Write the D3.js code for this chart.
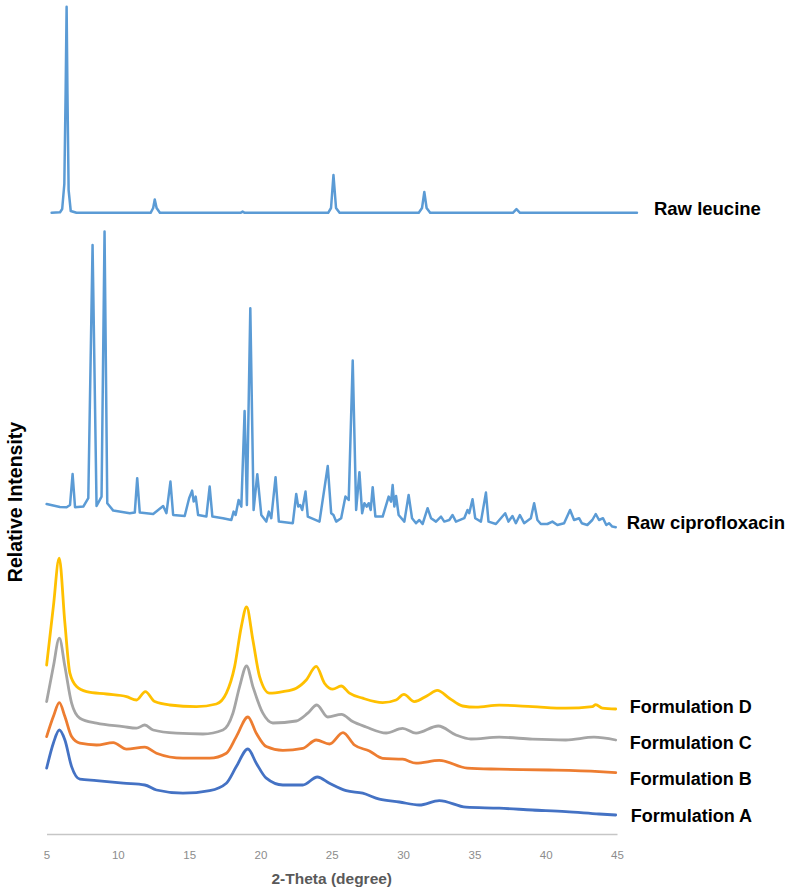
<!DOCTYPE html>
<html>
<head>
<meta charset="utf-8">
<script src="https://cdn.jsdelivr.net/npm/d3@7"></script>
<style>
  html, body { margin: 0; padding: 0; background: #fff; }
  svg { display: block; }
</style>
</head>
<body>
<div id="chart"></div>
<script>
// ---- DATA (2-Theta in degrees, relative intensity in stacked arbitrary units) ----
const xTicks = [5, 10, 15, 20, 25, 30, 35, 40, 45];
const seriesNames = ["Raw leucine", "Raw ciprofloxacin", "Formulation D", "Formulation C", "Formulation B", "Formulation A"];

const leucine = [[5.36,310.6],[5.95,310.9],[6.1,312.5],[6.25,325],[6.34,370],[6.41,413.6],[6.47,370],[6.55,322],[6.7,311.5],[7.1,310.6],
  [12.3,310.6],[12.48,313],[12.59,317.3],[12.72,313],[12.95,310.6],[18.6,310.6],[18.75,311.2],[18.9,310.6],
  [24.75,310.6],[24.95,313],[25.12,329.5],[25.3,313],[25.55,310.6],[31.1,310.6],[31.33,313],[31.49,321],[31.65,313],[31.9,310.6],
  [37.7,310.6],[37.95,312.4],[38.2,310.6],[46.4,310.6]];

const ciprofloxacin = [[5.01,165],[5.94,163.5],[6.41,163.4],[6.65,164.5],[6.83,180],[7.0,163.4],[7.58,163.7],[7.93,167.9],[8.23,294.5],[8.51,164],
  [8.86,168.7],[9.07,301.2],[9.26,165.4],[9.68,161.7],[10.84,160.4],[11.19,160.7],[11.36,177.9],[11.54,160.7],[12.48,160],[13.18,164],
  [13.41,160.4],[13.69,176.2],[13.88,159.5],[14.69,159],[15.0,167.9],[15.21,171.7],[15.32,166.2],[15.46,168.7],[15.63,159.5],[16.21,158.7],
  [16.44,173.7],[16.63,158.7],[17.37,157.9],[17.96,157],[18.12,161.2],[18.26,159.5],[18.47,167],[18.66,163.7],[18.89,211.5],[19.05,164.5],
  [19.29,262.9],[19.52,162],[19.78,179.9],[20.06,159.5],[20.41,156.2],[20.59,161.2],[20.76,157.9],[21.06,178.4],[21.29,156.2],[22.27,155.4],
  [22.51,170],[22.65,163.7],[22.79,164.5],[22.93,162],[23.16,171.2],[23.32,158.7],[24.14,156.2],[24.72,184],[24.96,160.4],[25.12,159.5],
  [25.31,156.2],[25.66,157.9],[25.96,168.7],[26.19,167],[26.47,236.7],[26.71,162],[26.94,180.9],[27.13,160.4],[27.29,165.4],[27.45,163.7],
  [27.59,165.4],[27.73,162],[27.87,173.4],[28.06,158.7],[28.57,158.7],[28.99,168.7],[29.16,166.2],[29.27,174.5],[29.39,163.7],[29.51,169],
  [29.69,159.5],[30.09,156.2],[30.39,169.5],[30.63,157.9],[30.91,155.4],[31.14,157],[31.37,155],[31.72,162.9],[31.96,157.9],[32.31,156.2],
  [32.66,158.7],[32.89,156.2],[33.24,157],[33.47,159.5],[33.71,156.2],[34.29,157.9],[34.52,162],[34.64,160.4],[34.87,167.4],[35.06,157.9],
  [35.46,156.2],[35.81,170.7],[35.99,156.2],[36.51,155],[37.16,160.4],[37.39,156.2],[37.67,159],[37.91,155.4],[38.19,159.5],[38.49,155.4],
  [38.96,157.9],[39.19,165.4],[39.42,157],[39.66,155],[40.12,155],[40.47,156.2],[40.82,154.5],[41.29,155.4],[41.71,162],[41.99,157],
  [42.34,157.9],[42.53,155.4],[42.92,154.5],[43.27,157],[43.51,160],[43.74,157],[44.02,157.9],[44.25,154.5],[44.44,155.4],[44.67,153.7],[44.91,153.4]];

const formulationD = [[5.01,84.5],[5.48,113.7],[5.89,137.9],[6.29,105.4],[6.64,80.4],[7.11,73.7],[7.81,71.2],[9.21,70],[10.61,68.7],[11.31,67],
  [11.93,71.2],[12.59,66.2],[13.64,64.5],[15.51,63.7],[16.91,65],[17.61,70.4],[18.19,83.7],[18.66,103.7],[19.03,113.5],[19.47,97],
  [19.94,78.7],[20.64,70.4],[21.57,71.2],[22.51,72.9],[23.21,77],[23.91,83.8],[24.49,75.4],[25.07,72.4],[25.66,74],[26.24,70.4],
  [27.17,67.9],[28.57,65.7],[29.51,67],[30.06,69.8],[30.79,66.2],[31.72,69.3],[32.4,71.8],[33.24,67.9],[34.17,64],[35.11,63.4],
  [36.74,64.4],[39.07,63.7],[41.41,62.9],[43.27,63.7],[43.51,64.7],[43.97,62.9],[44.91,62.5]];

const formulationC = [[5.01,66.2],[5.48,83.7],[5.9,97.9],[6.29,83.7],[6.76,65.4],[7.34,57.9],[8.51,55.4],[10.38,53.7],[11.31,52.9],[11.89,54.5],
  [12.48,52],[14.11,50.4],[15.97,50],[17.37,52],[18.07,60.4],[18.54,73.7],[19.03,84],[19.47,73.7],[20.17,60.4],[20.87,55.5],
  [22.51,56.5],[23.32,60.4],[23.95,64.5],[24.72,58.5],[25.68,59.8],[26.47,56.2],[27.41,53.5],[28.81,50.5],[29.97,52.8],[30.91,50.4],
  [32.47,54],[33.71,49.5],[34.76,47.5],[36.74,48.4],[39.07,47.4],[41.41,47],[43.39,48.4],[44.91,47]];

const formulationB = [[5.01,48.7],[5.48,58.7],[5.9,65.7],[6.29,58.7],[6.76,48.7],[7.34,45.4],[8.51,44.5],[9.68,45.7],[10.61,42.4],[11.89,43.4],
  [12.71,40.4],[14.57,37.9],[16.44,37.9],[17.61,40.4],[18.31,48.7],[19.12,58.5],[19.71,50.4],[20.41,43.7],[21.57,41.8],[22.97,42.8],
  [23.91,47],[24.84,45],[25.79,50.7],[26.59,44.5],[27.64,41.5],[28.57,37.8],[29.97,37.4],[30.91,35.4],[32.54,36.8],[34.5,32.9],
  [36.74,32.4],[40.24,32],[43.74,31.2],[44.91,30.7]];

const formulationA = [[5.01,32.9],[5.48,45.4],[5.9,52],[6.29,47],[6.76,33.7],[7.34,27.4],[8.51,26.7],[10.38,25.4],[11.89,24.5],[12.71,22],
  [14.57,20.4],[16.44,21.7],[17.61,25.4],[18.31,33.7],[19.12,42.5],[19.71,35.4],[20.41,27.9],[21.57,24.5],[22.97,24.5],[23.99,28.5],
  [24.84,25.4],[26.01,21.7],[27.17,20.4],[28.34,17.4],[29.74,16],[31.14,14.5],[32.54,16.7],[34.41,13.4],[36.74,12.9],[39.07,12],
  [41.41,11.2],[43.74,10],[44.91,9.5]];

const seriesData = [leucine, ciprofloxacin, formulationD, formulationC, formulationB, formulationA];

// ---- LAYOUT ----
const W = 800, H = 892;
const colors = ["#5B9BD5", "#5B9BD5", "#FFC000", "#A5A5A5", "#ED7D31", "#4472C4"];
const widths = [2.5, 2.5, 2.8, 2.8, 2.8, 2.8];
const labelPos = [
  {dx: 17, dy: -4, size: 18.5},  // Raw leucine (relative to last point)
  {dx: 11, dy: -5, size: 18.5},  // Raw ciprofloxacin
  {dx: 14, dy: -2, size: 18},
  {dx: 14, dy: 3, size: 18},
  {dx: 14, dy: 6, size: 18},
  {dx: 15, dy: 1, size: 18}
];

const svg = d3.select("#chart").append("svg").attr("width", W).attr("height", H);

const x = d3.scaleLinear().domain([5, 45]).range([46.5, 617]);
const y = d3.scaleLinear().domain([0, 417]).range([834, 0]);

// x axis
const xAxis = d3.axisBottom(x).tickValues(xTicks).tickSize(0).tickSizeOuter(0).tickPadding(17);
const gx = svg.append("g").attr("transform", `translate(0,${y(0)})`).call(xAxis);
gx.select(".domain").attr("stroke", "#c6c6c6").attr("stroke-width", 1.6);
gx.selectAll(".tick text")
  .attr("fill", "#8c8c8c")
  .style("font-family", "'Liberation Sans', Arial, sans-serif")
  .style("font-size", "11.5px");

svg.append("text")
  .attr("x", x(25)).attr("y", 884)
  .attr("text-anchor", "middle")
  .attr("fill", "#595959")
  .style("font-family", "'Liberation Sans', Arial, sans-serif")
  .style("font-weight", "bold")
  .style("font-size", "15.5px")
  .text("2-Theta (degree)");

svg.append("text")
  .attr("transform", "translate(22,502) rotate(-90)")
  .attr("text-anchor", "middle")
  .attr("fill", "#000")
  .style("font-family", "'Liberation Sans', Arial, sans-serif")
  .style("font-weight", "bold")
  .style("font-size", "19.5px")
  .text("Relative Intensity");

const lineSharp = d3.line().x(d => x(d[0])).y(d => y(d[1])).curve(d3.curveLinear);
const lineSmooth = d3.line().x(d => x(d[0])).y(d => y(d[1])).curve(d3.curveMonotoneX);

seriesData.forEach((data, i) => {
  svg.append("path")
    .datum(data)
    .attr("fill", "none")
    .attr("stroke", colors[i])
    .attr("stroke-width", widths[i])
    .attr("stroke-linejoin", "round")
    .attr("stroke-linecap", "round")
    .attr("d", i < 2 ? lineSharp : lineSmooth);

  const last = data[data.length - 1];
  const lp = labelPos[i];
  svg.append("text")
    .attr("x", x(last[0]) + lp.dx)
    .attr("y", y(last[1]) + lp.dy)
    .attr("dominant-baseline", "central")
    .attr("fill", "#000")
    .style("font-family", "'Liberation Sans', Arial, sans-serif")
    .style("font-weight", "bold")
    .style("font-size", lp.size + "px")
    .text(seriesNames[i]);
});
</script>
</body>
</html>
